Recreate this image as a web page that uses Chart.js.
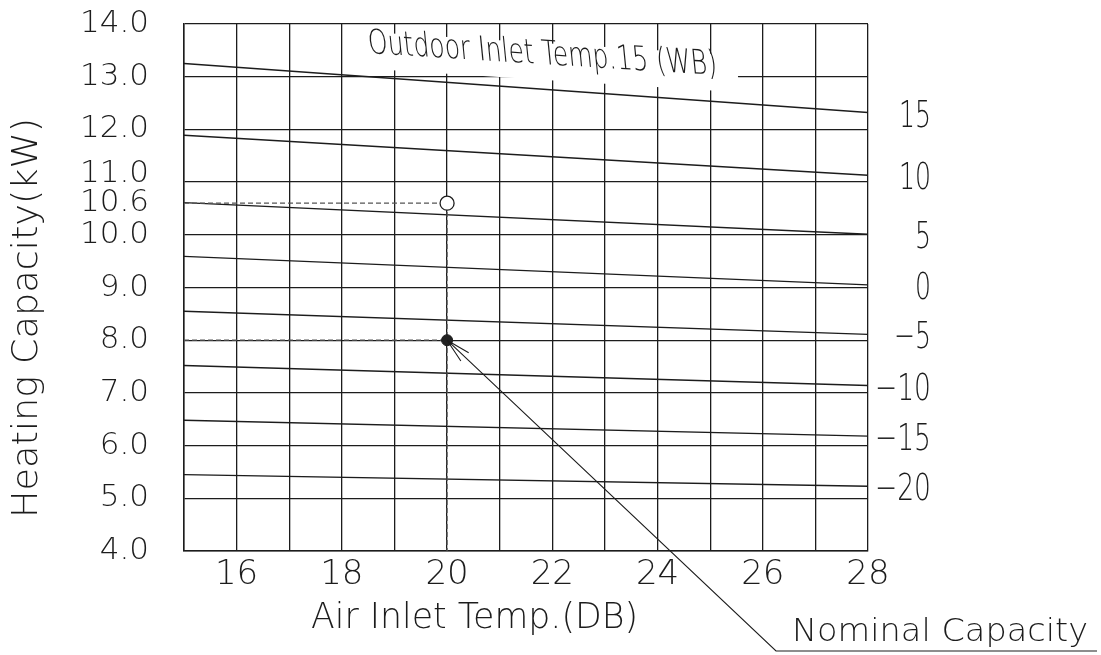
<!DOCTYPE html>
<html>
<head>
<meta charset="utf-8">
<title>Heating Capacity</title>
<script src="https://cdn.jsdelivr.net/npm/chart.js@4.4.1/dist/chart.umd.min.js"></script>
<style>
  html, body { margin: 0; padding: 0; background: #fff; }
  #wrap { width: 1101px; height: 655px; position: relative; }
</style>
</head>
<body>
<div id="wrap"><canvas id="capChart"></canvas></div>
<script>
// air inlet temperature (DB) at the two ends of every curve
const airInlet = [15, 28];
// outdoor inlet temperature (WB), one curve each
const outdoorTemps = [15, 10, 5, 0, -5, -10, -15, -20];
// heating capacity (kW) at 15 DB and at 28 DB
const capacityAt15 = [13.25, 11.89, 10.61, 9.59, 8.55, 7.52, 6.48, 5.45];
const capacityAt28 = [12.32, 11.13, 10.01, 9.05, 8.11, 7.14, 6.18, 5.23];
// rated point (open circle) and nominal point (filled dot)
const ratedPoint = { x: 20, y: 10.6 };
const nominalPoint = { x: 20, y: 8.0 };
// tick labels
const yTickValues = [4, 5, 6, 7, 8, 9, 10, 10.6, 11, 12, 13, 14];
const xTickLabels = [16, 18, 20, 22, 24, 26, 28];

const ink = "#1c1c1c";
const FONT = '"DejaVu Sans"';
const WEIGHT = 200;

// draws text squeezed horizontally to a given width
function fitText(ctx, text, x, y, size, width, align) {
  ctx.save();
  ctx.font = WEIGHT + " " + size + "px " + FONT;
  ctx.textBaseline = "alphabetic";
  ctx.textAlign = "left";
  const w = ctx.measureText(text).width;
  const sx = width / w;
  ctx.translate(align === "right" ? x - width : x, y);
  ctx.scale(sx, 1);
  ctx.fillText(text, 0, 0);
  ctx.restore();
}

const curveSets = outdoorTemps.map((t, i) => ({
  label: String(t),
  data: [
    { x: airInlet[0], y: capacityAt15[i] },
    { x: airInlet[1], y: capacityAt28[i] },
  ],
  borderColor: ink,
  borderWidth: 1.4,
  pointRadius: 0,
  order: 2,
}));

const guideStyle = {
  borderColor: "#555",
  borderWidth: 1.2,
  borderDash: [5, 3],
  pointRadius: 0,
  order: 1,
};

const datasets = [
  {
    label: "rated",
    data: [ratedPoint],
    showLine: false,
    pointRadius: 7,
    pointBorderWidth: 1.3,
    pointBorderColor: ink,
    pointBackgroundColor: "#fff",
    order: 0,
  },
  {
    label: "nominal",
    data: [nominalPoint],
    showLine: false,
    pointRadius: 5.5,
    pointBorderWidth: 1,
    pointBorderColor: ink,
    pointBackgroundColor: "#222",
    order: 0,
  },
  Object.assign({ label: "guide1", data: [
    { x: airInlet[0], y: ratedPoint.y }, ratedPoint, { x: ratedPoint.x, y: 4 },
  ] }, guideStyle),
  Object.assign({ label: "guide2", data: [
    { x: airInlet[0], y: nominalPoint.y }, nominalPoint,
  ] }, guideStyle),
].concat(curveSets);

// texts and leader drawn on top of the plot
const notes = {
  id: "notes",
  afterDraw(chart) {
    const ctx = chart.ctx;
    const xs = chart.scales.x, ys = chart.scales.y;
    ctx.save();
    ctx.fillStyle = ink;
    ctx.strokeStyle = ink;

    // curve labels at the right end
    outdoorTemps.forEach((t, i) => {
      const py = ys.getPixelForValue(capacityAt28[i]);
      const txt = t < 0 ? "\u2212" + Math.abs(t) : String(t);
      const w = t < 0 ? (t === -5 ? 37 : 56) : (t >= 10 ? 32 : 16);
      fitText(ctx, txt, 931, py + 14, 38, w, "right");
    });

    // chart title, sheared with a white mask behind it
    ctx.save();
    ctx.font = WEIGHT + " 34px " + FONT;
    const tw = ctx.measureText("Outdoor Inlet Temp.15 (WB)").width;
    const sx = 349 / tw;
    ctx.setTransform(1, 0.063, 0.1, 1, 369, 53);
    ctx.fillStyle = "#fff";
    ctx.fillRect(-6, -21, 375, 37);
    ctx.scale(sx, 1);
    ctx.fillStyle = ink;
    ctx.textBaseline = "alphabetic";
    ctx.fillText("Outdoor Inlet Temp.15 (WB)", 0, 0);
    ctx.restore();

    // axis titles
    ctx.save();
    ctx.translate(37, 318);
    ctx.rotate(-Math.PI / 2);
    fitText(ctx, "Heating Capacity(kW)", -200, 0, 36, 400);
    ctx.restore();
    fitText(ctx, "Air Inlet Temp.(DB)", 311, 628, 36, 327);

    // leader from the nominal point
    const nx = xs.getPixelForValue(nominalPoint.x);
    const ny = ys.getPixelForValue(nominalPoint.y);
    const ex = 776, ey = 651;
    const ang = Math.atan2(ey - ny, ex - nx);
    ctx.lineWidth = 1.1;
    ctx.beginPath();
    ctx.moveTo(nx, ny);
    ctx.lineTo(ex, ey);
    ctx.lineTo(1097, ey);
    [-0.23, 0.23].forEach((d) => {
      ctx.moveTo(nx, ny);
      ctx.lineTo(nx + 25 * Math.cos(ang + d), ny + 25 * Math.sin(ang + d));
    });
    ctx.stroke();
    fitText(ctx, "Nominal Capacity", 792, 641, 32, 296);
    ctx.restore();
  },
};

new Chart(document.getElementById("capChart"), {
  type: "line",
  data: { datasets },
  options: {
    responsive: true,
    maintainAspectRatio: false,
    animation: false,
    layout: { padding: { left: 0, top: 24, right: 233, bottom: 0 } },
    plugins: { legend: { display: false }, tooltip: { enabled: false } },
    scales: {
      x: {
        type: "linear",
        min: 15,
        max: 28,
        afterFit(scale) { scale.height = 104; },
        ticks: {
          stepSize: 1,
          autoSkip: false,
          maxRotation: 0,
          padding: 4,
          color: ink,
          font: { family: FONT, size: 34, weight: WEIGHT },
          callback: (v) => (xTickLabels.includes(v) ? String(v) : ""),
        },
        grid: { color: ink, lineWidth: 1.3, drawTicks: false },
        border: { color: ink, width: 1.5 },
      },
      y: {
        type: "linear",
        min: 4,
        max: 14,
        afterFit(scale) {
          scale.width = 184;
          scale.paddingTop = 0;
          scale.paddingBottom = 0;
        },
        afterBuildTicks(scale) {
          scale.ticks = yTickValues.map((v) => ({ value: v }));
        },
        ticks: {
          autoSkip: false,
          padding: 35,
          color: ink,
          font: { family: FONT, size: 31, weight: WEIGHT, lineHeight: "16px" },
          callback: (v) => (v === 11 ? ["11.0", ""] : v.toFixed(1)),
        },
        grid: {
          color: (c) => (c.tick && c.tick.value === 10.6 ? "rgba(0,0,0,0)" : ink),
          lineWidth: 1.3,
          drawTicks: false,
        },
        border: { color: ink, width: 1.5 },
      },
    },
  },
  plugins: [notes],
});
</script>
</body>
</html>
